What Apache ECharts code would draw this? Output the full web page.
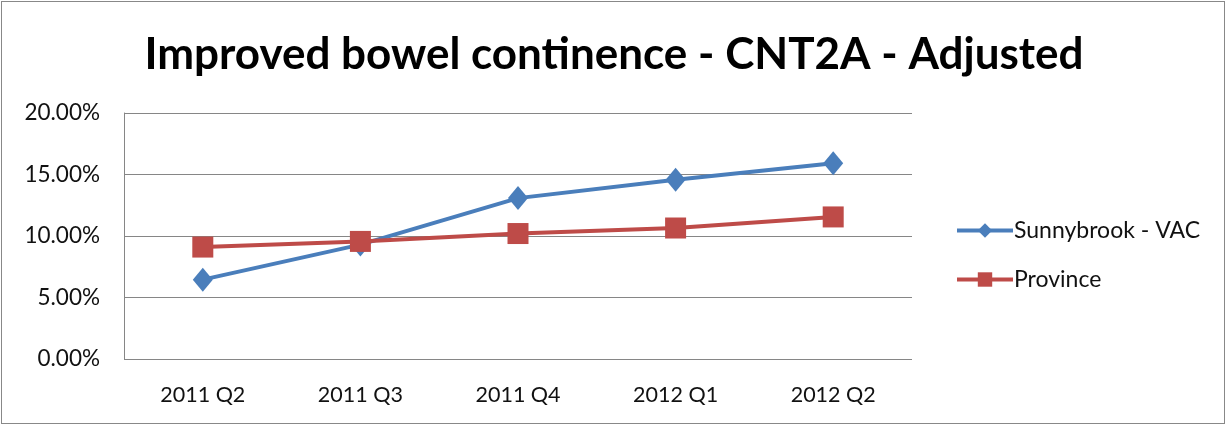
<!DOCTYPE html>
<html>
<head>
<meta charset="utf-8">
<script src="https://cdn.jsdelivr.net/npm/echarts@6/dist/echarts.min.js"></script>
<style>
  html, body { margin: 0; padding: 0; background: #fff; }
  #frame { position: absolute; left: 1px; top: 1px; width: 1224px; height: 423px; border: 1px solid #888; box-sizing: border-box; }
  #chart { width: 1228px; height: 427px; }
</style>
</head>
<body>
<div id="chart"></div>
<div id="frame"></div>
<script>
// Quarterly rates (%), improved bowel continence
const quarters = ['2011 Q2', '2011 Q3', '2011 Q4', '2012 Q1', '2012 Q2'];
const sunnybrookVAC = [6.45, 9.3, 13.08, 14.58, 15.92];
const province = [9.1, 9.56, 10.2, 10.65, 11.55];
const yTicks = [0, 5, 10, 15, 20];

const FONT = 'Lato, "Liberation Sans", sans-serif';
const chart = echarts.init(document.getElementById('chart'), null, { renderer: 'canvas' });

chart.setOption({
  animation: false,
  backgroundColor: '#fff',
  title: {
    text: 'Improved bowel continence - CNT2A - Adjusted',
    left: 'center',
    top: 28,
    textStyle: { fontFamily: FONT, fontWeight: 'bold', fontSize: 44, color: '#000' }
  },
  legend: {
    orient: 'vertical',
    left: 950,
    top: 214,
    itemWidth: 56,
    itemHeight: 18,
    itemGap: 26,
    lineStyle: { width: 4 },
    textStyle: { fontFamily: FONT, fontSize: 23, color: '#111', padding: [0, 0, 0, -4] },
    data: ['Sunnybrook - VAC', 'Province']
  },
  grid: { left: 124, right: 316, top: 113, bottom: 68 },
  xAxis: {
    type: 'category',
    data: quarters,
    boundaryGap: true,
    axisLine: { show: false },
    axisTick: { show: false },
    axisLabel: { fontFamily: FONT, fontSize: 21.5, color: '#111', margin: 25 }
  },
  yAxis: {
    type: 'value',
    min: yTicks[0],
    max: yTicks[yTicks.length - 1],
    interval: 5,
    axisLine: { show: true, lineStyle: { color: '#868686', width: 1 } },
    axisTick: { show: false },
    splitLine: { lineStyle: { color: '#868686', width: 1 } },
    axisLabel: {
      fontFamily: FONT, fontSize: 22.5, color: '#111', margin: 24,
      formatter: v => v.toFixed(2) + '%'
    }
  },
  series: [
    {
      name: 'Sunnybrook - VAC',
      type: 'line',
      data: sunnybrookVAC,
      symbol: 'diamond',
      symbolSize: [20, 24],
      lineStyle: { color: '#4A7EBB', width: 4 },
      itemStyle: { color: '#4A7EBB' },
      z: 2
    },
    {
      name: 'Province',
      type: 'line',
      data: province,
      symbol: 'rect',
      symbolSize: 21,
      lineStyle: { color: '#BE4B48', width: 4 },
      itemStyle: { color: '#BE4B48' },
      z: 3
    }
  ]
});
</script>
</body>
</html>
